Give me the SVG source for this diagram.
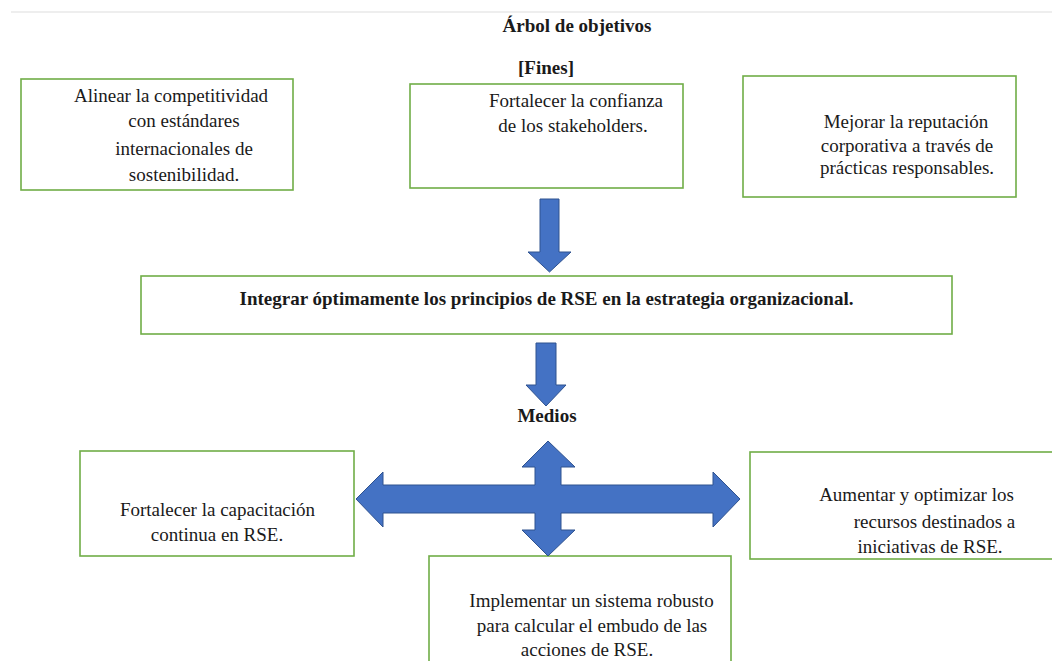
<svg xmlns="http://www.w3.org/2000/svg" width="1052" height="661" viewBox="0 0 1052 661">
<style>
.box{fill:#fff;stroke:#70AD47;stroke-width:1.6}
.t{font-family:"Liberation Serif","Times New Roman","DejaVu Serif",serif;font-size:19px;fill:#1a1a1a;text-anchor:middle}
.b{font-weight:bold}
.arr{fill:#4472C4;stroke:#2F528F;stroke-width:1}
</style>
<rect width="1052" height="661" fill="#fff"/>
<line x1="11" y1="12" x2="1052" y2="12" stroke="#eeeeee" stroke-width="2"/>
<text class="t b" x="577" y="32" font-family="Liberation Serif, serif">Árbol de objetivos</text>
<text class="t b" x="546" y="74">[Fines]</text>
<g id="fin1">
<rect class="box" x="21" y="79" width="272" height="111"/>
<text class="t" x="171" y="102">Alinear la competitividad</text>
<text class="t" x="184" y="127">con estándares</text>
<text class="t" x="184" y="155">internacionales de</text>
<text class="t" x="184" y="181">sostenibilidad.</text>
</g>
<g id="fin2">
<rect class="box" x="410" y="84" width="273" height="104"/>
<text class="t" x="576" y="107">Fortalecer la confianza</text>
<text class="t" x="573" y="132">de los stakeholders.</text>
</g>
<g id="fin3">
<rect class="box" x="743" y="76" width="273" height="121"/>
<text class="t" x="906" y="128">Mejorar la reputación</text>
<text class="t" x="907" y="152">corporativa a través de</text>
<text class="t" x="907" y="174">prácticas responsables.</text>
</g>
<g id="objetivo">
<rect class="box" x="141" y="276" width="811" height="58"/>
<text class="t b" x="546.5" y="305">Integrar óptimamente los principios de RSE en la estrategia organizacional.</text>
</g>
<text class="t b" x="547" y="422">Medios</text>
<g id="medio1">
<rect class="box" x="80" y="451" width="274" height="105"/>
<text class="t" x="217.5" y="516">Fortalecer la capacitación</text>
<text class="t" x="217" y="541">continua en RSE.</text>
</g>
<g id="medio2">
<rect class="box" x="429" y="556" width="302" height="110"/>
<text class="t" x="591.5" y="607">Implementar un sistema robusto</text>
<text class="t" x="592" y="632">para calcular el embudo de las</text>
<text class="t" x="587" y="656">acciones de RSE.</text>
</g>
<g id="medio3">
<rect class="box" x="750" y="452" width="305" height="107"/>
<text class="t" x="916.5" y="501">Aumentar y optimizar los</text>
<text class="t" x="934.5" y="528">recursos destinados a</text>
<text class="t" x="930" y="553">iniciativas de RSE.</text>
</g>
<g id="connectors">
<path class="arr" d="M540,199 H559 V252 H571 L549.5,272 L528,252 H540 Z"/>
<path class="arr" d="M536,343 H556 V385 H566 L546,406 L526,385 H536 Z"/>
<path class="arr" d="M356,499 L383,472 V485 H535 V467 H522 L548,441 L575,467 H561 V485 H713 V472 L740,499 L713,527 V513 H561 V530 H575 L548,556 L522,530 H535 V513 H383 V527 Z"/>
</g>
</svg>
